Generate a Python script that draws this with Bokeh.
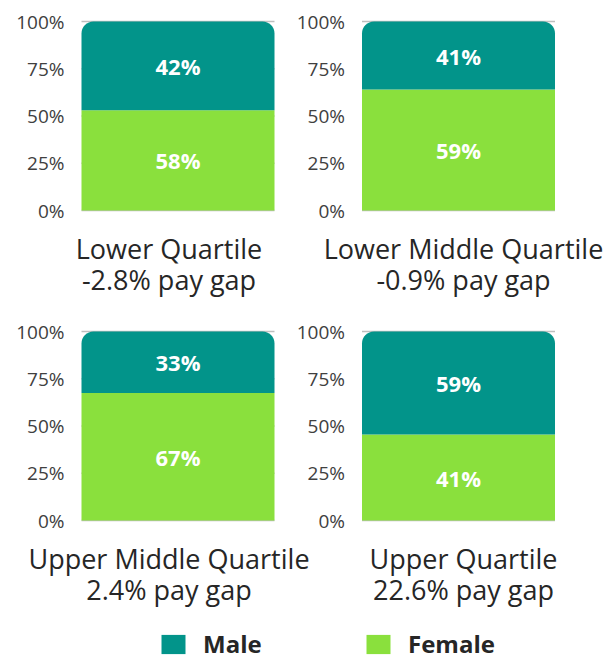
from bokeh.plotting import figure
from bokeh.layouts import column
from bokeh.models import ColumnDataSource, Range1d, Legend, LegendItem
from bokeh.core.properties import value
from bokeh.embed import file_html
from bokeh.resources import INLINE

# ---------------- data ----------------
quartiles = ["Lower Quartile", "Lower Middle Quartile",
             "Upper Middle Quartile", "Upper Quartile"]
pay_gaps = ["-2.8% pay gap", "-0.9% pay gap", "2.4% pay gap", "22.6% pay gap"]
male_labels = ["42%", "41%", "33%", "59%"]
female_labels = ["58%", "59%", "67%", "41%"]
# female segment height as drawn in the picture (percent of the bar)
female_share = [53, 64, 67.5, 45.5]
y_ticks = [0, 25, 50, 75, 100]
y_tick_labels = ["0%", "25%", "50%", "75%", "100%"]
series_names = ["Male", "Female"]

# ---------------- style / layout ----------------
MALE_COLOR = "#02948A"
FEMALE_COLOR = "#8AE03D"
GRID_COLOR = "#BFBFBF"
FONT = "Open Sans"
TITLE_COLOR = "#262626"
TICK_COLOR = "#404040"

WIDTH = 603
ROW_H = 310
LEG_H = 40
FIRST_BAR_CENTER_PX = 177.5
PITCH_PX = 280.5
BAR_PX = 193
TOP_PX = 21            # pixel row of the 100% line inside a row
PX_PER_PCT = 1.89
STANDOFF = 17
TITLE_LINE1_PX = 38    # below the 0% line
TITLE_LINE2_PX = 69
TITLE_DX = [-9, 5]     # small horizontal nudge of the titles per column

BAR_W = BAR_PX / PITCH_PX


def make_row(idxs):
    total = y_ticks[-1]
    x_start = -FIRST_BAR_CENTER_PX / PITCH_PX
    x_end = x_start + WIDTH / PITCH_PX
    y_end = total + TOP_PX / PX_PER_PCT
    y_start = y_end - ROW_H / PX_PER_PCT
    p = figure(width=WIDTH, height=ROW_H, output_backend="svg",
               toolbar_location=None,
               x_range=Range1d(x_start, x_end), y_range=Range1d(y_start, y_end),
               x_axis_location=None, y_axis_location=None,
               min_border=0, min_border_left=0, min_border_right=0,
               min_border_top=0, min_border_bottom=0)
    p.outline_line_color = None
    p.xgrid.visible = False
    p.ygrid.visible = False

    pos = list(range(len(idxs)))
    fem = [female_share[i] for i in idxs]

    # panel grid lines (only the 100% one peeks out at the rounded corners)
    gx0, gx1, gy = [], [], []
    for x in pos:
        for t in y_ticks:
            gx0.append(x - BAR_W / 2)
            gx1.append(x + BAR_W / 2)
            gy.append(t)
    p.segment(x0=gx0, x1=gx1, y0=gy, y1=gy, line_color=GRID_COLOR,
              line_width=1.5)

    src = ColumnDataSource(dict(
        x=pos,
        female=fem,
        total=[total] * len(pos),
        female_mid=[f / 2 for f in fem],
        male_mid=[(f + total) / 2 for f in fem],
        female_lab=[female_labels[i] for i in idxs],
        male_lab=[male_labels[i] for i in idxs],
        name=[quartiles[i] for i in idxs],
        gap=[pay_gaps[i] for i in idxs],
        t1=[-TITLE_LINE1_PX / PX_PER_PCT] * len(pos),
        t2=[-TITLE_LINE2_PX / PX_PER_PCT] * len(pos),
        dx=TITLE_DX[:len(pos)],
    ))

    p.vbar(x="x", bottom=0, top="female", width=BAR_W, source=src,
           fill_color=FEMALE_COLOR, line_color=None)
    p.vbar(x="x", bottom="female", top="total", width=BAR_W, source=src,
           fill_color=MALE_COLOR, line_color=None,
           border_radius=(12, 12, 0, 0))

    for col, lab in (("female_mid", "female_lab"), ("male_mid", "male_lab")):
        p.text(x="x", y=col, text=lab, source=src, text_color="white",
               text_font=value(FONT), text_font_size="22px",
               text_font_style="bold", text_align="center",
               text_baseline="middle")

    # y tick labels for each panel
    tx, ty, tt = [], [], []
    for x in pos:
        for t, lab in zip(y_ticks, y_tick_labels):
            tx.append(x - BAR_W / 2)
            ty.append(t)
            tt.append(lab)
    p.text(x=tx, y=ty, text=tt, x_offset=-STANDOFF, text_align="right",
           text_baseline="middle", text_font=value(FONT),
           text_font_size="19px", text_color=TICK_COLOR)

    for ycol, tcol in (("t1", "name"), ("t2", "gap")):
        p.text(x="x", y=ycol, text=tcol, source=src, x_offset="dx",
               text_align="center", text_baseline="alphabetic",
               text_font=value(FONT), text_font_size="27px",
               text_color=TITLE_COLOR)
    return p


row1 = make_row([0, 1])
row2 = make_row([2, 3])

leg = figure(width=WIDTH, height=LEG_H, output_backend="svg",
             toolbar_location=None, x_range=(0, 1), y_range=(0, 1),
             x_axis_location=None, y_axis_location=None,
             min_border=0, min_border_left=0, min_border_right=0,
             min_border_top=0, min_border_bottom=0)
leg.outline_line_color = None
leg.xgrid.visible = False
leg.ygrid.visible = False
# zero-size stand-in renderers that only serve the legend swatches
r_m = leg.vbar(x=[0], top=[0], bottom=[0], width=0,
               fill_color=MALE_COLOR, line_color=None)
r_f = leg.vbar(x=[0], top=[0], bottom=[0], width=0,
               fill_color=FEMALE_COLOR, line_color=None)
for r, name, loc in ((r_m, series_names[0], (158, 0)),
                     (r_f, series_names[1], (363, 0))):
    lg = Legend(items=[LegendItem(label=name, renderers=[r])], location=loc,
                glyph_width=30, glyph_height=24, label_standoff=15,
                padding=0, margin=0, spacing=0, border_line_color=None,
                background_fill_alpha=0, label_text_font=FONT,
                label_text_font_size="24px", label_text_font_style="bold",
                label_text_color=TITLE_COLOR)
    leg.add_layout(lg)

layout = column(row1, row2, leg, spacing=0)

with open("out.html", "w") as f:
    f.write(file_html(layout, INLINE))
